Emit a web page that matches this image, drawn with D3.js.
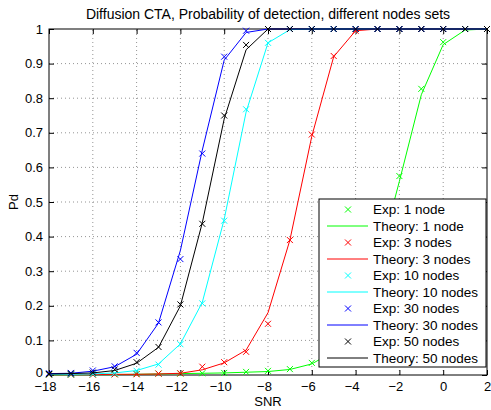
<!DOCTYPE html>
<html>
<head>
<meta charset="utf-8">
<script src="https://cdn.jsdelivr.net/npm/d3@7"></script>
<style>
  html, body { margin: 0; padding: 0; background: #fff; }
  svg { display: block; font-family: "Liberation Sans", Arial, Helvetica, sans-serif; }
</style>
</head>
<body>
<svg id="chart" width="491" height="410"></svg>
<script>
// SNR sweep (dB)
const snr = [-18,-17,-16,-15,-14,-13,-12,-11,-10,-9,-8,-7,-6,-5,-4,-3,-2,-1,0,1,2];

// Measured probability of detection
const exp1  = [0.001,0.001,0.002,0.002,0.003,0.004,0.004,0.005,0.006,0.009,0.012,0.017,0.035,0.07,0.15,0.31,0.575,0.827,0.962,1,1];
const exp3  = [0.001,0.001,0.001,0.002,0.002,0.004,0.005,0.024,0.037,0.067,0.148,0.39,0.695,0.922,0.995,1,1,1,1,1,1];
const exp10 = [0.002,0.002,0.003,0.005,0.012,0.03,0.089,0.207,0.446,0.768,0.96,1,1,1,1,1,1,1,1,1,1];
const exp30 = [0.005,0.006,0.013,0.025,0.064,0.152,0.335,0.64,0.92,0.995,1,1,1,1,1,1,1,1,1,1,1];
const exp50 = [0.003,0.004,0.007,0.016,0.037,0.081,0.204,0.437,0.75,0.954,1,1,1,1,1,1,1,1,1,1,1];

// Theoretical probability of detection
const th1  = [0.0005,0.0005,0.001,0.001,0.002,0.003,0.004,0.005,0.006,0.008,0.01,0.016,0.032,0.068,0.15,0.32,0.56,0.81,0.955,0.997,1];
const th3  = [0.001,0.001,0.001,0.002,0.002,0.003,0.005,0.015,0.035,0.072,0.18,0.39,0.69,0.92,0.995,1,1,1,1,1,1];
const th10 = [0.002,0.002,0.003,0.006,0.013,0.032,0.09,0.21,0.45,0.76,0.96,0.998,1,1,1,1,1,1,1,1,1];
const th30 = [0.004,0.005,0.011,0.024,0.06,0.15,0.36,0.65,0.91,0.99,1,1,1,1,1,1,1,1,1,1,1];
const th50 = [0.003,0.004,0.006,0.013,0.034,0.08,0.2,0.44,0.74,0.94,1,1,1,1,1,1,1,1,1,1,1];

const nodeLabels = ["1 node","3 nodes","10 nodes","30 nodes","50 nodes"];
const colors = ["#00ff00","#ff0000","#00ffff","#0000ff","#000000"];
const xTicks = [-18,-16,-14,-12,-10,-8,-6,-4,-2,0,2];
const yTicks = [0,0.1,0.2,0.3,0.4,0.5,0.6,0.7,0.8,0.9,1];

const title = "Diffusion CTA, Probability of detection, different nodes sets";
const xLabel = "SNR";
const yLabel = "Pd";

const series = nodeLabels.map((lab, i) => ({
  label: lab,
  color: colors[i],
  exp: [exp1, exp3, exp10, exp30, exp50][i],
  th:  [th1, th3, th10, th30, th50][i]
}));

const svg = d3.select("#chart");
const m = { left: 49, right: 4, top: 29, bottom: 35 };
const W = 491, H = 410;
const x = d3.scaleLinear().domain([-18, 2]).range([m.left, W - m.right]);
const y = d3.scaleLinear().domain([0, 1]).range([H - m.bottom, m.top]);

// dotted grid
const grid = svg.append("g").attr("stroke", "#000").attr("stroke-width", 0.6)
  .attr("stroke-dasharray", "1,3").attr("opacity", 0.7);
xTicks.slice(1, -1).forEach(t => grid.append("line")
  .attr("x1", x(t)).attr("x2", x(t)).attr("y1", y(0)).attr("y2", y(1)));
yTicks.slice(1, -1).forEach(t => grid.append("line")
  .attr("x1", x(-18)).attr("x2", x(2)).attr("y1", y(t)).attr("y2", y(t)));

// axes with inward ticks on all sides
const fmtY = d => d === 0 ? "0" : d === 1 ? "1" : d3.format(".1f")(d);
const fmtX = d => d < 0 ? "\u2212" + Math.abs(d) : String(d);
const tickFont = 13;

const axB = svg.append("g").attr("transform", `translate(0,${y(0)})`)
  .call(d3.axisBottom(x).tickValues(xTicks).tickSize(-5).tickPadding(7).tickFormat(fmtX));
const axL = svg.append("g").attr("transform", `translate(${x(-18)},0)`)
  .call(d3.axisLeft(y).tickValues(yTicks).tickSize(-5).tickPadding(6).tickFormat(fmtY));
const axT = svg.append("g").attr("transform", `translate(0,${y(1)})`)
  .call(d3.axisTop(x).tickValues(xTicks).tickSize(-5).tickFormat(""));
const axR = svg.append("g").attr("transform", `translate(${x(2)},0)`)
  .call(d3.axisRight(y).tickValues(yTicks).tickSize(-5).tickFormat(""));
[axB, axL, axT, axR].forEach(a => {
  a.select(".domain").remove();
  a.selectAll("line").attr("stroke", "#000");
  a.selectAll("text").attr("font-size", tickFont).attr("fill", "#000")
    .style("font-family", "Liberation Sans, Arial, sans-serif");
});
// negative labels sit a little left of their ticks; the zero label sits slightly high
axB.selectAll(".tick text").attr("dx", d => d < 0 ? -4 : 0);
axL.selectAll(".tick text").attr("dy", d => d === 0 ? "0.15em" : "0.32em");

svg.append("rect").attr("x", x(-18)).attr("y", y(1))
  .attr("width", x(2) - x(-18)).attr("height", y(0) - y(1))
  .attr("fill", "none").attr("stroke", "#000").attr("stroke-width", 1);

// curves and markers
const line = d3.line().x((d, i) => x(snr[i])).y(d => y(d));
const plot = svg.append("g");
function cross(g, cx, cy, s, color) {
  g.append("path").attr("d", `M${cx-s},${cy-s}L${cx+s},${cy+s}M${cx-s},${cy+s}L${cx+s},${cy-s}`)
    .attr("stroke", color).attr("stroke-width", 1).attr("fill", "none");
}
series.forEach(s => {
  const g = plot.append("g");
  s.exp.forEach((v, i) => cross(g, x(snr[i]), y(v), 3, s.color));
  g.append("path").datum(s.th).attr("d", line)
    .attr("fill", "none").attr("stroke", s.color).attr("stroke-width", 1);
});

// title and axis labels
svg.append("text").attr("x", (x(-18) + x(2)) / 2).attr("y", 18.5)
  .attr("text-anchor", "middle").attr("font-size", 14).text(title);
svg.append("text").attr("x", (x(-18) + x(2)) / 2).attr("y", 406)
  .attr("text-anchor", "middle").attr("font-size", 13).text(xLabel);
svg.append("text").attr("transform", `translate(18,${(y(0) + y(1)) / 2}) rotate(-90)`)
  .attr("text-anchor", "middle").attr("font-size", 13).text(yLabel);

// legend
const lg = svg.append("g").attr("transform", "translate(319,199)");
lg.append("rect").attr("width", 167).attr("height", 168)
  .attr("fill", "#fff").attr("stroke", "#000").attr("stroke-width", 1);
const rowH = 16.5;
series.forEach((s, i) => {
  const yE = 10.5 + rowH * (2 * i);
  const yT = 10.5 + rowH * (2 * i + 1);
  cross(lg, 29, yE, 3, s.color);
  lg.append("text").attr("x", 54).attr("y", yE).attr("dy", "0.35em")
    .attr("font-size", 13.5).text("Exp: " + s.label);
  lg.append("line").attr("x1", 8).attr("x2", 49).attr("y1", yT).attr("y2", yT)
    .attr("stroke", s.color).attr("stroke-width", 1);
  lg.append("text").attr("x", 54).attr("y", yT).attr("dy", "0.35em")
    .attr("font-size", 13.5).text("Theory: " + s.label);
});
</script>
</body>
</html>
